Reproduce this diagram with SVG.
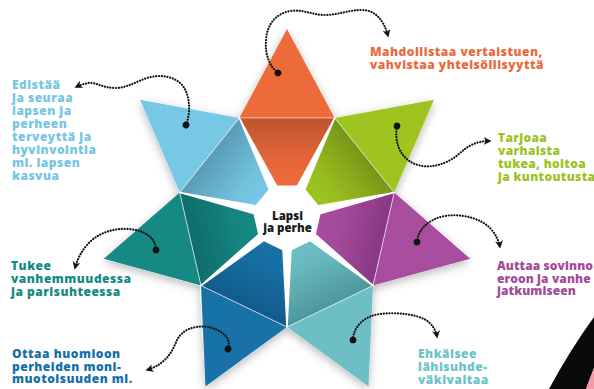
<svg xmlns="http://www.w3.org/2000/svg" xmlns:xlink="http://www.w3.org/1999/xlink" width="594" height="389" viewBox="0 0 594 389">
<defs>
<style>
.lbl{font-family:"Open Sans","Liberation Sans",sans-serif;font-weight:800;font-size:12px;letter-spacing:0.5px}
.ctr{font-family:"Open Sans","Liberation Sans",sans-serif;font-weight:800;font-size:11.5px;fill:#1a1a1a;text-anchor:middle}
.inner{stroke:#ffffff;stroke-width:0.8;stroke-opacity:0.75}
.conn{fill:none;stroke:#111;stroke-width:2.2;stroke-linecap:round;stroke-dasharray:0.1 2.7;marker-start:url(#dot);marker-end:url(#arrow)}
.gap{fill:#ffffff}
</style>
<filter id="shadow" x="-20%" y="-20%" width="140%" height="140%">
<feDropShadow dx="0" dy="3" stdDeviation="5" flood-color="#000" flood-opacity="0.28"/>
</filter>
<marker id="arrow" viewBox="0 0 10 10" refX="8" refY="5" markerWidth="8" markerHeight="8" markerUnits="userSpaceOnUse" orient="auto">
<path d="M0,0 L10,5 L0,10 L3,5 Z" fill="#111"/>
</marker>
<marker id="dot" viewBox="-5 -5 10 10" refX="0" refY="0" markerWidth="8" markerHeight="8" markerUnits="userSpaceOnUse" orient="auto">
<circle r="4.2" fill="#111"/>
</marker>
<polygon id="wedge" points="28,-5 110.5,-0.7 110.5,0.7 28,5"/>
<linearGradient id="g-orange" gradientUnits="userSpaceOnUse" x1="0" y1="-99" x2="0" y2="-32"><stop offset="0" stop-color="#c0532f"/><stop offset="0.7" stop-color="#e8673a"/><stop offset="1" stop-color="#ec6b3b"/></linearGradient>
<linearGradient id="g-green" gradientUnits="userSpaceOnUse" x1="0" y1="-99" x2="0" y2="-32"><stop offset="0" stop-color="#78961a"/><stop offset="0.7" stop-color="#98be1e"/><stop offset="1" stop-color="#9ec41f"/></linearGradient>
<linearGradient id="g-purple" gradientUnits="userSpaceOnUse" x1="0" y1="-99" x2="0" y2="-32"><stop offset="0" stop-color="#873883"/><stop offset="0.7" stop-color="#a44a9c"/><stop offset="1" stop-color="#a84c9e"/></linearGradient>
<linearGradient id="g-lteal" gradientUnits="userSpaceOnUse" x1="0" y1="-99" x2="0" y2="-32"><stop offset="0" stop-color="#4f979c"/><stop offset="0.7" stop-color="#68b9bf"/><stop offset="1" stop-color="#6dbfc5"/></linearGradient>
<linearGradient id="g-dblue" gradientUnits="userSpaceOnUse" x1="0" y1="-99" x2="0" y2="-32"><stop offset="0" stop-color="#125a8c"/><stop offset="0.7" stop-color="#166ea3"/><stop offset="1" stop-color="#1872a8"/></linearGradient>
<linearGradient id="g-teal" gradientUnits="userSpaceOnUse" x1="0" y1="-99" x2="0" y2="-32"><stop offset="0" stop-color="#0e6d6a"/><stop offset="0.7" stop-color="#15847f"/><stop offset="1" stop-color="#168985"/></linearGradient>
<linearGradient id="g-lblue" gradientUnits="userSpaceOnUse" x1="0" y1="-99" x2="0" y2="-32"><stop offset="0" stop-color="#5b9bb6"/><stop offset="0.7" stop-color="#72c2de"/><stop offset="1" stop-color="#77c8e5"/></linearGradient>
</defs>

<rect width="594" height="389" fill="#ffffff"/>

<!-- star shadow -->
<polygon filter="url(#shadow)" fill="#ffffff" points="287,29 334.73,117.89 433.98,99.78 394.24,192.52 470.29,258.83 373,285.58 368.57,386.38 287,327 205.43,386.38 200,285.58 103.71,258.83 179.76,192.52 140.02,99.78 239.27,117.89"/>

<g id="node-orange">
<g transform="translate(287 217)">
<polygon points="0,-188 47.73,-99.11 -47.73,-99.11" fill="#ec6b3b"/>
<polygon class="inner" points="-47.73,-99.11 47.73,-99.11 14.32,-29.73 -14.32,-29.73" fill="url(#g-orange)"/>
</g>
<text class="lbl" fill="#ea6a3d"><tspan x="370" y="55.5">Mahdollistaa vertaistuen,</tspan><tspan x="370" y="68.5">vahvistaa yhteisöllisyyttä</tspan></text>
</g>

<g id="node-green">
<g transform="translate(287 217) rotate(51.4286)">
<polygon points="0,-188 47.73,-99.11 -47.73,-99.11" fill="#9ec41f"/>
<polygon class="inner" points="-47.73,-99.11 47.73,-99.11 14.32,-29.73 -14.32,-29.73" fill="url(#g-green)"/>
</g>
<text class="lbl" fill="#9bc21e" style="letter-spacing:0.35px"><tspan x="498" y="141.5">Tarjoaa</tspan><tspan x="498" y="154.8">varhaista</tspan><tspan x="498" y="168.1">tukea, hoitoa</tspan><tspan x="498" y="181.4">ja kuntoutusta</tspan></text>
</g>

<g id="node-purple">
<g transform="translate(287 217) rotate(102.857)">
<polygon points="0,-188 47.73,-99.11 -47.73,-99.11" fill="#a84c9e"/>
<polygon class="inner" points="-47.73,-99.11 47.73,-99.11 14.32,-29.73 -14.32,-29.73" fill="url(#g-purple)"/>
</g>
<text class="lbl" fill="#a04d99" style="letter-spacing:0.1px"><tspan x="497" y="270">Auttaa sovinno</tspan><tspan x="497" y="282.6">eroon ja vanhe</tspan><tspan x="497" y="295.2">jatkumiseen</tspan></text>
</g>

<g id="node-lightteal">
<g transform="translate(287 217) rotate(154.286)">
<polygon points="0,-188 47.73,-99.11 -47.73,-99.11" fill="#6dbfc5"/>
<polygon class="inner" points="-47.73,-99.11 47.73,-99.11 14.32,-29.73 -14.32,-29.73" fill="url(#g-lteal)"/>
</g>
<text class="lbl" fill="#6cc3c9"><tspan x="418" y="358">Ehkäisee</tspan><tspan x="418" y="371">lähisuhde-</tspan><tspan x="418" y="384">väkivaltaa</tspan></text>
</g>

<g id="node-darkblue">
<g transform="translate(287 217) rotate(205.714)">
<polygon points="0,-188 47.73,-99.11 -47.73,-99.11" fill="#1872a8"/>
<polygon class="inner" points="-47.73,-99.11 47.73,-99.11 14.32,-29.73 -14.32,-29.73" fill="url(#g-dblue)"/>
</g>
<text class="lbl" fill="#156fa8"><tspan x="12" y="358">Ottaa huomioon</tspan><tspan x="12" y="370.5">perheiden moni-</tspan><tspan x="12" y="383">muotoisuuden ml.</tspan></text>
</g>

<g id="node-teal">
<g transform="translate(287 217) rotate(257.143)">
<polygon points="0,-188 47.73,-99.11 -47.73,-99.11" fill="#168985"/>
<polygon class="inner" points="-47.73,-99.11 47.73,-99.11 14.32,-29.73 -14.32,-29.73" fill="url(#g-teal)"/>
</g>
<text class="lbl" fill="#138a85"><tspan x="11" y="270">Tukee</tspan><tspan x="11" y="283">vanhemmuudessa</tspan><tspan x="11" y="296">ja parisuhteessa</tspan></text>
</g>

<g id="node-lightblue">
<g transform="translate(287 217) rotate(308.571)">
<polygon points="0,-188 47.73,-99.11 -47.73,-99.11" fill="#77c8e5"/>
<polygon class="inner" points="-47.73,-99.11 47.73,-99.11 14.32,-29.73 -14.32,-29.73" fill="url(#g-lblue)"/>
</g>
<text class="lbl" fill="#77c5e2"><tspan x="12" y="89">Edistää</tspan><tspan x="12" y="102">ja seuraa</tspan><tspan x="12" y="115">lapsen ja</tspan><tspan x="12" y="128">perheen</tspan><tspan x="12" y="141">terveyttä ja</tspan><tspan x="12" y="154">hyvinvointia</tspan><tspan x="12" y="167">ml. lapsen</tspan><tspan x="12" y="180">kasvua</tspan></text>
</g>

<!-- white separators and centre -->
<g id="separators" class="gap">
<use xlink:href="#wedge" transform="translate(287 217) rotate(-115.714)"/>
<use xlink:href="#wedge" transform="translate(287 217) rotate(-64.286)"/>
<use xlink:href="#wedge" transform="translate(287 217) rotate(-12.857)"/>
<use xlink:href="#wedge" transform="translate(287 217) rotate(38.571)"/>
<use xlink:href="#wedge" transform="translate(287 217) rotate(90)"/>
<use xlink:href="#wedge" transform="translate(287 217) rotate(141.429)"/>
<use xlink:href="#wedge" transform="translate(287 217) rotate(192.857)"/>
</g>

<g id="node-center">
<polygon fill="#ffffff" points="271.9,185.6 302.1,185.6 321.6,209.1 314.8,239.1 287,252.5 259.2,239.1 252.4,209.1"/>
<text class="ctr"><tspan x="287.5" y="219.5">Lapsi</tspan><tspan x="287.5" y="231.5">ja perhe</tspan></text>
</g>

<g id="connectors">
<path class="conn" d="M278,73 C268,65 265,52 266,40 C267,25 275,14 290,11 C303,9 312,15 325,15 C338,15 348,10 362,10 C375,10 384,20 388,36"/>
<path class="conn" d="M186,125 C191,112 190,96 183,86 C175,76 160,74 147,78 C135,82 127,88 115,88 C103,88 96,82 88,83 C84,84 80,85 76,87"/>
<path class="conn" d="M397,126 C394,142 400,158 415,164 C430,170 448,164 460,153 C468,146 476,141 490,141"/>
<path class="conn" d="M417,242 C418,230 428,219 445,216 C462,213 482,219 491,229 C496,235 499,241 500,247"/>
<path class="conn" d="M353,340 C353,328 363,316 380,314 C397,312 415,314 426,320 C432,324 436,330 437,337"/>
<path class="conn" d="M228,349 C232,338 222,330 208,327 C194,325 182,330 177,340 C172,352 166,364 147,370"/>
<path class="conn" d="M156,250 C156,238 145,230 128,229 C112,228 96,234 87,245 C81,252 77,260 75,268"/>
</g>

<!-- corner decoration -->
<path d="M549,389 Q570,350 594,317 L594,368 Q590,378 586,389 Z" fill="#0a0a0a"/>
<path d="M586,389 Q590,378 594,368 L594,389 Z" fill="#f29aa5"/>
</svg>
